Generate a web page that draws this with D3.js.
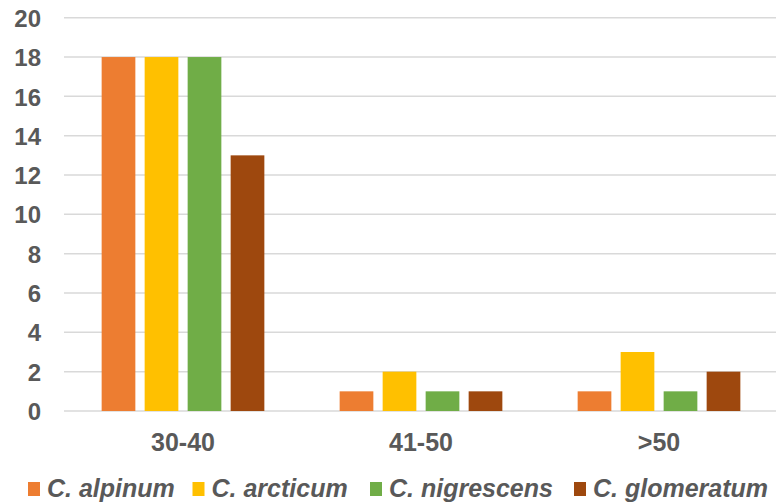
<!DOCTYPE html>
<html><head><meta charset="utf-8">
<script src="https://cdn.jsdelivr.net/npm/d3@7"></script>
<style>body{margin:0;background:#fff}svg{display:block}text{font-family:"Liberation Sans",Arial,sans-serif;font-weight:bold;fill:#595959}</style>
</head><body><svg id="c" width="776" height="503"></svg>
<script>
const categories = ["30-40", "41-50", ">50"];
const seriesNames = ["C. alpinum", "C. arcticum", "C. nigrescens", "C. glomeratum"];
const alpinum = [18, 1, 1];
const arcticum = [18, 2, 3];
const nigrescens = [18, 1, 1];
const glomeratum = [13, 1, 2];
const yTicks = [0, 2, 4, 6, 8, 10, 12, 14, 16, 18, 20];
const colors = ["#ED7D31", "#FFC000", "#70AD47", "#9E480E"];

const series = [alpinum, arcticum, nigrescens, glomeratum];
const svg = d3.select("#c");
const plotL = 64, plotR = 778, plotT = 17.7, plotB = 411;
const x = d3.scaleBand().domain(categories).range([plotL, plotR]).paddingInner(0).paddingOuter(0);
const y = d3.scaleLinear().domain([0, 20]).range([plotB, plotT]);
const barW = 33.7, barStep = 43;

// gridlines
svg.append("g").selectAll("line").data(yTicks).join("line")
  .attr("x1", plotL).attr("x2", 776).attr("y1", d => y(d)).attr("y2", d => y(d))
  .attr("stroke", "#d9d9d9").attr("stroke-width", 1.5);

// y labels
const yAxis = d3.axisLeft(y).tickValues(yTicks).tickSize(0).tickPadding(0);
const gy = svg.append("g").attr("transform", "translate(41,0)").call(yAxis);
gy.select(".domain").remove();
gy.attr("font-size", null).attr("font-family", null);
gy.selectAll("text").attr("font-size", 24).attr("dy", "0.36em").attr("fill", "#595959")
  .style("font-family", "Liberation Sans, Arial, sans-serif").style("font-weight", "bold");

// bars
const groupW = barW * 4 + (barStep - barW) * 3;
series.forEach((vals, si) => {
  svg.append("g").selectAll("rect").data(vals).join("rect")
    .attr("x", (d, i) => x(categories[i]) + (x.bandwidth() - groupW) / 2 + si * barStep)
    .attr("width", barW)
    .attr("y", d => y(d))
    .attr("height", d => y(0) - y(d))
    .attr("fill", colors[si]);
});

// x labels
const xAxis = d3.axisBottom(x).tickSize(0).tickPadding(0);
const gx = svg.append("g").attr("transform", "translate(0,433)").call(xAxis);
gx.select(".domain").remove();
gx.attr("font-size", null).attr("font-family", null);
gx.selectAll("text").attr("font-size", 25).attr("dy", "0.71em").attr("fill", "#595959")
  .style("font-family", "Liberation Sans, Arial, sans-serif").style("font-weight", "bold");

// legend
const legendX = [28, 192.5, 370, 574];
const lg = svg.append("g");
seriesNames.forEach((n, i) => {
  lg.append("rect").attr("x", legendX[i]).attr("y", 482).attr("width", 12).attr("height", 14).attr("fill", colors[i]);
  lg.append("text").attr("x", legendX[i] + 19).attr("y", 497).attr("font-size", 25)
    .attr("font-style", "italic").text(n);
});
</script></body></html>
